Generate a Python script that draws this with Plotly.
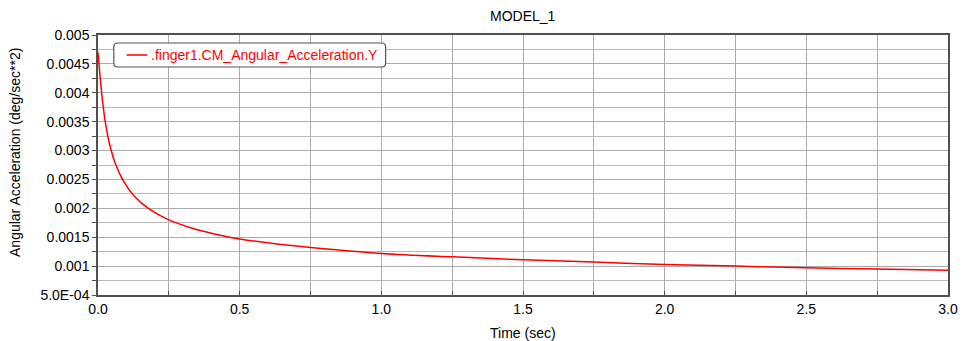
import plotly.graph_objects as go

# ---- data ----
time_sec = [0.0, 0.007, 0.015, 0.025, 0.04, 0.06, 0.09, 0.13, 0.18, 0.25,
            0.33, 0.4, 0.5, 0.75, 1.0, 1.25, 1.5, 1.75, 2.0, 2.25, 2.5, 2.75, 3.0]
ang_acc_y = [0.0047, 0.0043, 0.0039, 0.00352, 0.00313, 0.00279, 0.00247, 0.0022,
             0.00199, 0.0018, 0.00166, 0.00157, 0.00147, 0.00132, 0.00122, 0.00116,
             0.00111, 0.00107, 0.00103, 0.0010, 0.00097, 0.00095, 0.00093]
series_name = ".finger1.CM_Angular_Acceleration.Y"

x_tickvals = [0.0, 0.5, 1.0, 1.5, 2.0, 2.5, 3.0]
x_ticktext = ["0.0", "0.5", "1.0", "1.5", "2.0", "2.5", "3.0"]
y_tickvals = [0.0005, 0.001, 0.0015, 0.002, 0.0025, 0.003, 0.0035, 0.004, 0.0045, 0.005]
y_ticktext = ["5.0E-04", "0.001", "0.0015", "0.002", "0.0025", "0.003", "0.0035",
              "0.004", "0.0045", "0.005"]

OFF = 8  # page body margin offset
W, H = 969 - OFF, 341 - OFF
L, T = 98 - OFF, 35 - OFF
R = W - (958 - OFF)
B = H - (295 - OFF)
PW, PH = W - L - R, H - T - B
FONT = "Liberation Sans, Arial, sans-serif"


def px_x(p):
    return (p - OFF - L) / PW


def px_y(p):
    return (H - B - (p - OFF)) / PH


fig = go.Figure()
fig.add_trace(go.Scatter(
    x=time_sec, y=ang_acc_y, mode="lines", name=series_name,
    line=dict(color="#ff0000", width=1.5, shape="spline", smoothing=1.0),
    showlegend=False, hoverinfo="x+y"))

axis_common = dict(
    showline=True, linecolor="#505050", linewidth=1.5, mirror=True,
    showgrid=True, gridcolor="#ababab", gridwidth=1,
    zeroline=False, tickfont=dict(family=FONT, size=14, color="#000"),
)
fig.update_xaxes(
    **axis_common, range=[0, 3], tickvals=x_tickvals, ticktext=x_ticktext,
    ticks="inside", ticklen=4, tickcolor="#505050",
    minor=dict(dtick=0.25, tick0=0, showgrid=True, gridcolor="#ababab",
               ticks="inside", ticklen=4, tickcolor="#505050"),
)
fig.update_yaxes(
    **axis_common, range=[0.0005, 0.005], tickvals=y_tickvals, ticktext=y_ticktext,
    ticks="outside", ticklen=4, tickcolor="#505050",
    minor=dict(dtick=0.00025, tick0=0, showgrid=True, gridcolor="#b8b8b8",
               ticks="outside", ticklen=4, tickcolor="#505050"),
)

# legend box (rounded)
x0, x1, y0, y1 = px_x(114), px_x(389), px_y(43), px_y(67)
rx, ry = 4 / PW, 4 / PH
path = (f"M {x0+rx},{y0} L {x1-rx},{y0} Q {x1},{y0} {x1},{y0-ry} "
        f"L {x1},{y1+ry} Q {x1},{y1} {x1-rx},{y1} L {x0+rx},{y1} "
        f"Q {x0},{y1} {x0},{y1+ry} L {x0},{y0-ry} Q {x0},{y0} {x0+rx},{y0} Z")
fig.add_shape(type="path", path=path, xref="paper", yref="paper",
              line=dict(color="#555555", width=1.2), fillcolor="white", layer="above")
fig.add_shape(type="line", xref="paper", yref="paper",
              x0=px_x(127), x1=px_x(148), y0=px_y(55), y1=px_y(55),
              line=dict(color="#ff0000", width=1.5), layer="above")
fig.add_annotation(text=series_name, xref="paper", yref="paper",
                   x=px_x(150), y=px_y(55), xanchor="left", yanchor="middle",
                   showarrow=False, font=dict(family=FONT, size=14, color="#ff0000"))

# titles
fig.add_annotation(text="MODEL_1", xref="paper", yref="paper", x=0.5, y=px_y(16),
                   xanchor="center", yanchor="middle", showarrow=False,
                   font=dict(family=FONT, size=14, color="#000"))
fig.add_annotation(text="Time (sec)", xref="paper", yref="paper", x=0.5, y=px_y(333),
                   xanchor="center", yanchor="middle", showarrow=False,
                   font=dict(family=FONT, size=14, color="#000"))
fig.add_annotation(text="Angular Acceleration (deg/sec**2)", xref="paper", yref="paper",
                   x=px_x(14), y=px_y(152), xanchor="center", yanchor="middle",
                   textangle=-90, showarrow=False,
                   font=dict(family=FONT, size=14, color="#000"))

fig.update_layout(
    width=W, height=H, margin=dict(l=L, r=R, t=T, b=B),
    paper_bgcolor="white", plot_bgcolor="white",
    font=dict(family=FONT, size=14, color="#000"),
)

fig.write_html("out.html")
